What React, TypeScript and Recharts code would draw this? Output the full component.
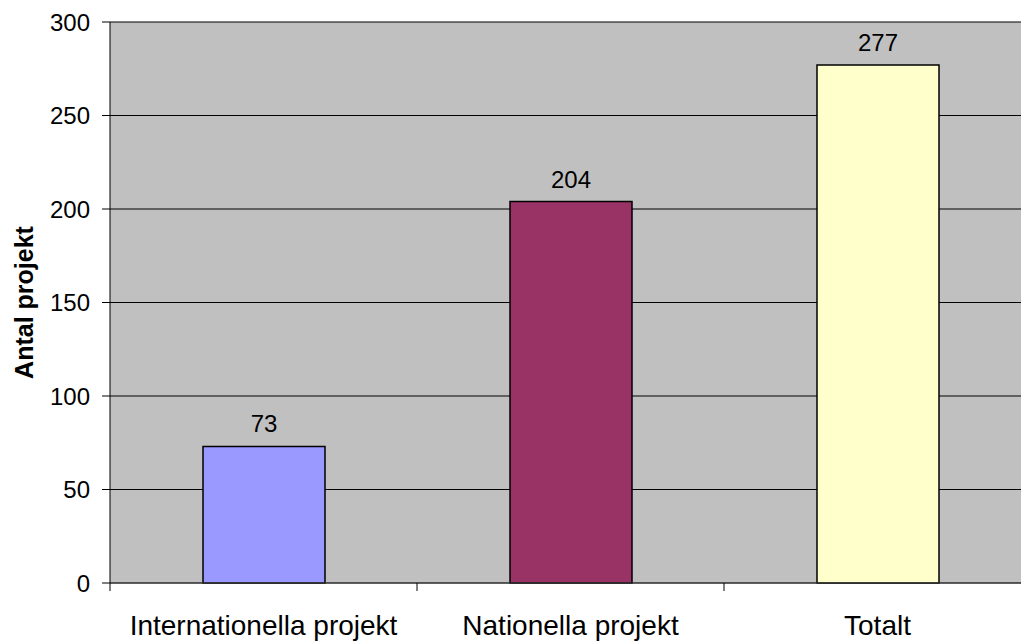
import React from 'react';
import { BarChart, Bar, XAxis, YAxis, CartesianGrid, Cell, LabelList } from 'recharts';

const categories = ['Internationella projekt', 'Nationella projekt', 'Totalt'];
const values = [73, 204, 277];
const barColors = ['#9999ff', '#993366', '#ffffcc'];
const yTicks = [0, 50, 100, 150, 200, 250, 300];

const data = categories.map((name, i) => ({ name, value: values[i] }));

const FONT = '"Liberation Sans", Arial, sans-serif';

// category label at band centre, tick marks at band boundaries
const XTick = (props: any) => {
  const { x, y, payload, index } = props;
  const half = 921 / categories.length / 2;
  return (
    <g>
      <line x1={x - half} x2={x - half} y1={y - 8} y2={y} stroke="#000" />
      {index === categories.length - 1 && (
        <line x1={x + half} x2={x + half} y1={y - 8} y2={y} stroke="#000" />
      )}
      <text x={x} y={y + 44} textAnchor="middle" fontSize={28} fontFamily={FONT} fill="#000">
        {payload.value}
      </text>
    </g>
  );
};

export default function App() {
  return (
    <div style={{ position: 'absolute', left: 0, top: 0, width: 1021, height: 643, overflow: 'hidden', background: '#fff' }}>
      <BarChart
        width={1040}
        height={643}
        data={data}
        margin={{ top: 22, right: 9, bottom: 0, left: 0 }}
        barCategoryGap="30%"
      >
        <CartesianGrid vertical={false} stroke="#000" fill="#c0c0c0" fillOpacity={1} />
        <XAxis
          dataKey="name"
          height={60}
          tickLine={false}
          axisLine={{ stroke: '#404040' }}
          tick={<XTick />}
          interval={0}
        />
        <YAxis
          width={110}
          domain={[0, 300]}
          ticks={yTicks}
          interval={0}
          tickSize={8}
          tickMargin={12}
          axisLine={{ stroke: '#000' }}
          tickLine={{ stroke: '#000' }}
          tick={{ fontSize: 24, fontFamily: FONT, fill: '#000' }}
          label={{
            value: 'Antal projekt',
            angle: -90,
            position: 'insideLeft',
            offset: 24,
            style: { fontSize: 25, fontWeight: 'bold', fontFamily: FONT, fill: '#000', textAnchor: 'middle' },
          }}
        />
        <Bar dataKey="value" stroke="#000" strokeWidth={1.5} isAnimationActive={false} barSize={122}>
          {data.map((d, i) => (
            <Cell key={d.name} fill={barColors[i]} />
          ))}
          <LabelList
            dataKey="value"
            position="top"
            offset={14}
            style={{ fontSize: 24, fontFamily: FONT, fill: '#000' }}
          />
        </Bar>
      </BarChart>
    </div>
  );
}
